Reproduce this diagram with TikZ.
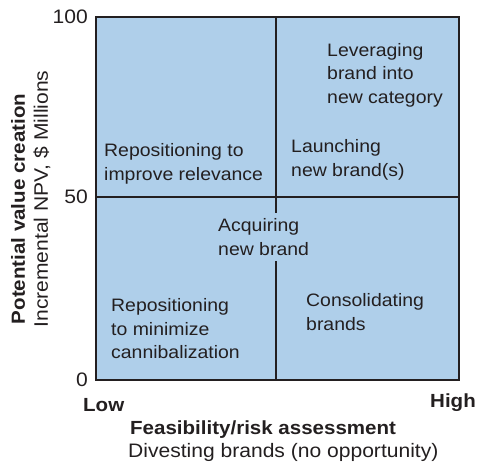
\documentclass[tikz,border=0pt]{standalone}
\usepackage{fontspec}
\setmainfont{Liberation Sans}[FakeStretch=1.08]
\begin{document}
\begin{tikzpicture}[x=1pt,y=-1pt,
  grid/.style={line width=2pt, draw=ink},
  cell/.style={inner sep=0pt, align=left, anchor=west, text=ink,
    font=\fontsize{18}{23.5}\selectfont},
  tick/.style={inner sep=0pt, text=ink, font=\fontsize{19.5}{22}\selectfont},
  boldlab/.style={inner sep=0pt, text=ink, font=\fontsize{19}{22}\selectfont\bfseries},
  axlab/.style={inner sep=0pt, text=ink, font=\fontsize{19.5}{22}\selectfont}]
\definecolor{ink}{HTML}{231F20}
\definecolor{panel}{HTML}{AFCFEA}
\useasboundingbox (0,0) rectangle (477,468);
% quadrant panel
\coordinate (tl) at (96,17);
\coordinate (br) at (459,380);
\fill[panel] (tl) rectangle (br);
\coordinate (vt) at (276,17);
\coordinate (vm) at (276,213);
\coordinate (vn) at (276,261);
\coordinate (vb) at (276,380);
\coordinate (hl) at (96,197);
\coordinate (hr) at (459,197);
\draw[grid] (vt) -- (vm);
\draw[grid] (vn) -- (vb);
\draw[grid] (hl) -- (hr);
\draw[grid] (tl) rectangle (br);
% scale marks
\node[tick, anchor=east] (t100) at (88,17) {100};
\node[tick, anchor=east] (t50) at (88,197) {50};
\node[tick, anchor=east] (t0) at (88,380) {0};
\node[boldlab, anchor=west] (low) at (83,405) {Low};
\node[boldlab, anchor=east] (high) at (476,403) {High};
% axis titles
\node[boldlab, anchor=west] (xt) at (130,430) {Feasibility/risk assessment};
\node[axlab, anchor=west] (xs) at (128,452) {Divesting brands (no opportunity)};
\node[boldlab, rotate=90] (yt) at (18,209) {Potential value creation};
\node[axlab, rotate=90] (ys) at (42,199) {Incremental NPV, \$ Millions};
% quadrant entries
\node[cell] (lev) at (327,75) {Leveraging\\brand into\\new category};
\node[cell] (lau) at (291,160) {Launching\\new brand(s)};
\node[cell] (rep) at (104,164) {Repositioning to\\improve relevance};
\node[cell] (acq) at (218,237) {Acquiring\\new brand};
\node[cell] (can) at (111,329) {Repositioning\\to minimize\\cannibalization};
\node[cell] (con) at (306,312) {Consolidating\\brands};
\end{tikzpicture}
\end{document}
